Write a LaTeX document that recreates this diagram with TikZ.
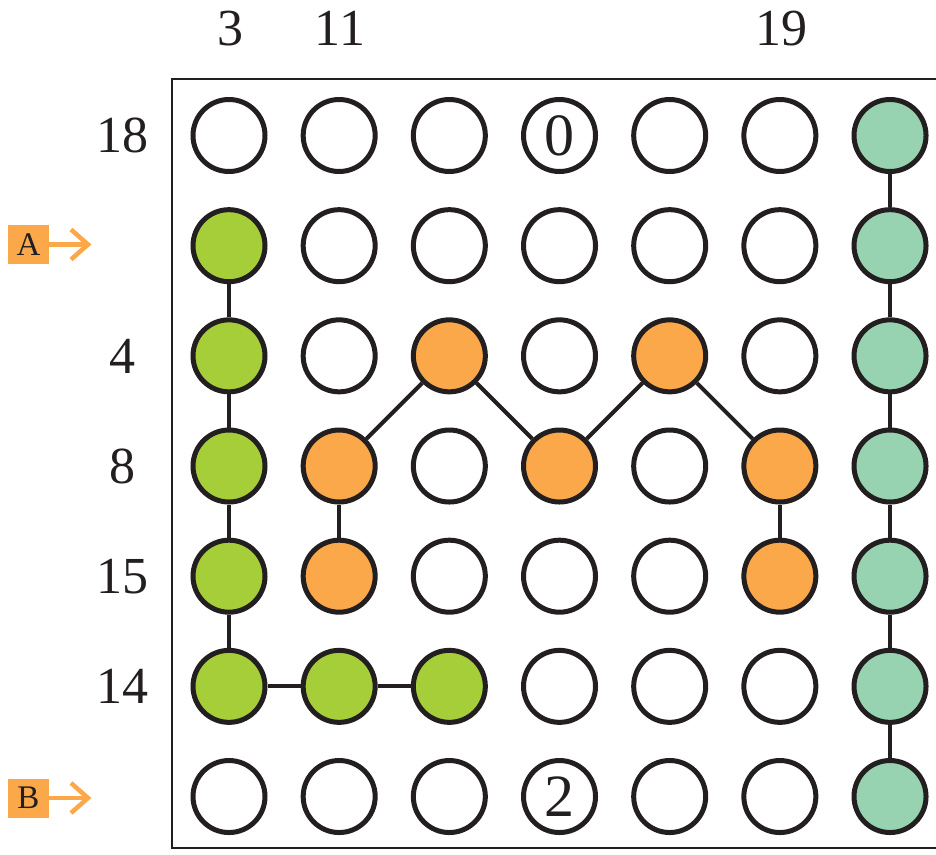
\documentclass[tikz,border=0pt]{standalone}
\usepackage{fontspec}
\setmainfont{Liberation Serif}
\definecolor{cgreen}{RGB}{166,206,57}
\definecolor{corange}{RGB}{250,168,74}
\definecolor{cteal}{RGB}{151,211,176}
\definecolor{cline}{RGB}{35,31,32}
\begin{document}
\begin{tikzpicture}[x=1pt,y=-1pt,
  cell/.style={circle,draw=cline,line width=5pt,minimum size=72pt,inner sep=0pt,fill=white,font=\fontsize{60}{60}\selectfont},
  gcell/.style={cell,fill=cgreen},
  ocell/.style={cell,fill=corange},
  tcell/.style={cell,fill=cteal},
  link/.style={draw=cline,line width=4pt},
  lab/.style={font=\fontsize{52}{52}\selectfont,inner sep=0pt,text=cline},
  tag/.style={fill=corange,minimum width=41pt,minimum height=39pt,inner sep=0pt,font=\fontsize{33}{33}\selectfont,text=cline},
  tagarrow/.style={draw=corange,line width=4.5pt,miter limit=10}
]
\useasboundingbox (0,0) rectangle (936,854);
\fill[white] (0,0) rectangle (936,854);
% frame
\draw[cline,line width=2.5pt] (937,79) -- (172,79) -- (172,848) -- (937,848);
% connectors first (behind circles)
\def\dx{110.17}
\foreach \r in {1,...,7}{
  \foreach \c in {1,...,7}{
    \coordinate (p-\r-\c) at ({229+\dx*(\c-1)},{135.5+\dx*(\r-1)});
  }
}
% circles
\foreach \r/\c/\s in {
 1/1/cell,1/2/cell,1/3/cell,1/4/cell,1/5/cell,1/6/cell,1/7/tcell,
 2/1/gcell,2/2/cell,2/3/cell,2/4/cell,2/5/cell,2/6/cell,2/7/tcell,
 3/1/gcell,3/2/cell,3/3/ocell,3/4/cell,3/5/ocell,3/6/cell,3/7/tcell,
 4/1/gcell,4/2/ocell,4/3/cell,4/4/ocell,4/5/cell,4/6/ocell,4/7/tcell,
 5/1/gcell,5/2/ocell,5/3/cell,5/4/cell,5/5/cell,5/6/ocell,5/7/tcell,
 6/1/gcell,6/2/gcell,6/3/gcell,6/4/cell,6/5/cell,6/6/cell,6/7/tcell,
 7/1/cell,7/2/cell,7/3/cell,7/4/cell,7/5/cell,7/6/cell,7/7/tcell}{
  \node[\s] (n-\r-\c) at (p-\r-\c) {};
}
\node[font=\fontsize{60}{60}\selectfont,text=cline,inner sep=0pt] (t0) at (p-1-4) {0};
\node[font=\fontsize{60}{60}\selectfont,text=cline,inner sep=0pt] (t2) at (p-7-4) {2};
% green chain
\draw[link] (n-2-1) -- (n-3-1);
\draw[link] (n-3-1) -- (n-4-1);
\draw[link] (n-4-1) -- (n-5-1);
\draw[link] (n-5-1) -- (n-6-1);
\draw[link] (n-6-1) -- (n-6-2);
\draw[link] (n-6-2) -- (n-6-3);
% orange chain
\draw[link] (n-5-2) -- (n-4-2);
\draw[link] (n-4-2) -- (n-3-3);
\draw[link] (n-3-3) -- (n-4-4);
\draw[link] (n-4-4) -- (n-3-5);
\draw[link] (n-3-5) -- (n-4-6);
\draw[link] (n-4-6) -- (n-5-6);
% teal chain
\foreach \r [evaluate=\r as \rn using int(\r+1)] in {1,...,6}{
  \draw[link] (n-\r-7) -- (n-\rn-7);
}
% column labels
\node[lab] (c3) at (230,28.5) {3};
\node[lab] (c11) at (340,28.5) {11};
\node[lab] (c19) at (781,28.5) {19};
% row labels
\node[lab] (r18) at (122,135.5) {18};
\node[lab] (r4) at (122,356) {4};
\node[lab] (r8) at (122,466) {8};
\node[lab] (r15) at (122,576.5) {15};
\node[lab] (r14) at (122,686.5) {14};
% tags
\node[tag] (tA) at (28.5,244.5) {A};
\coordinate (aA) at (88,244.5);
\draw[tagarrow] (tA.east) -- (aA);
\draw[tagarrow] ([shift={(-17,-15)}]aA) -- (aA) -- ([shift={(-17,15)}]aA);
\node[tag] (tB) at (28.5,798) {B};
\coordinate (aB) at (88,798);
\draw[tagarrow] (tB.east) -- (aB);
\draw[tagarrow] ([shift={(-17,-15)}]aB) -- (aB) -- ([shift={(-17,15)}]aB);
\end{tikzpicture}
\end{document}
